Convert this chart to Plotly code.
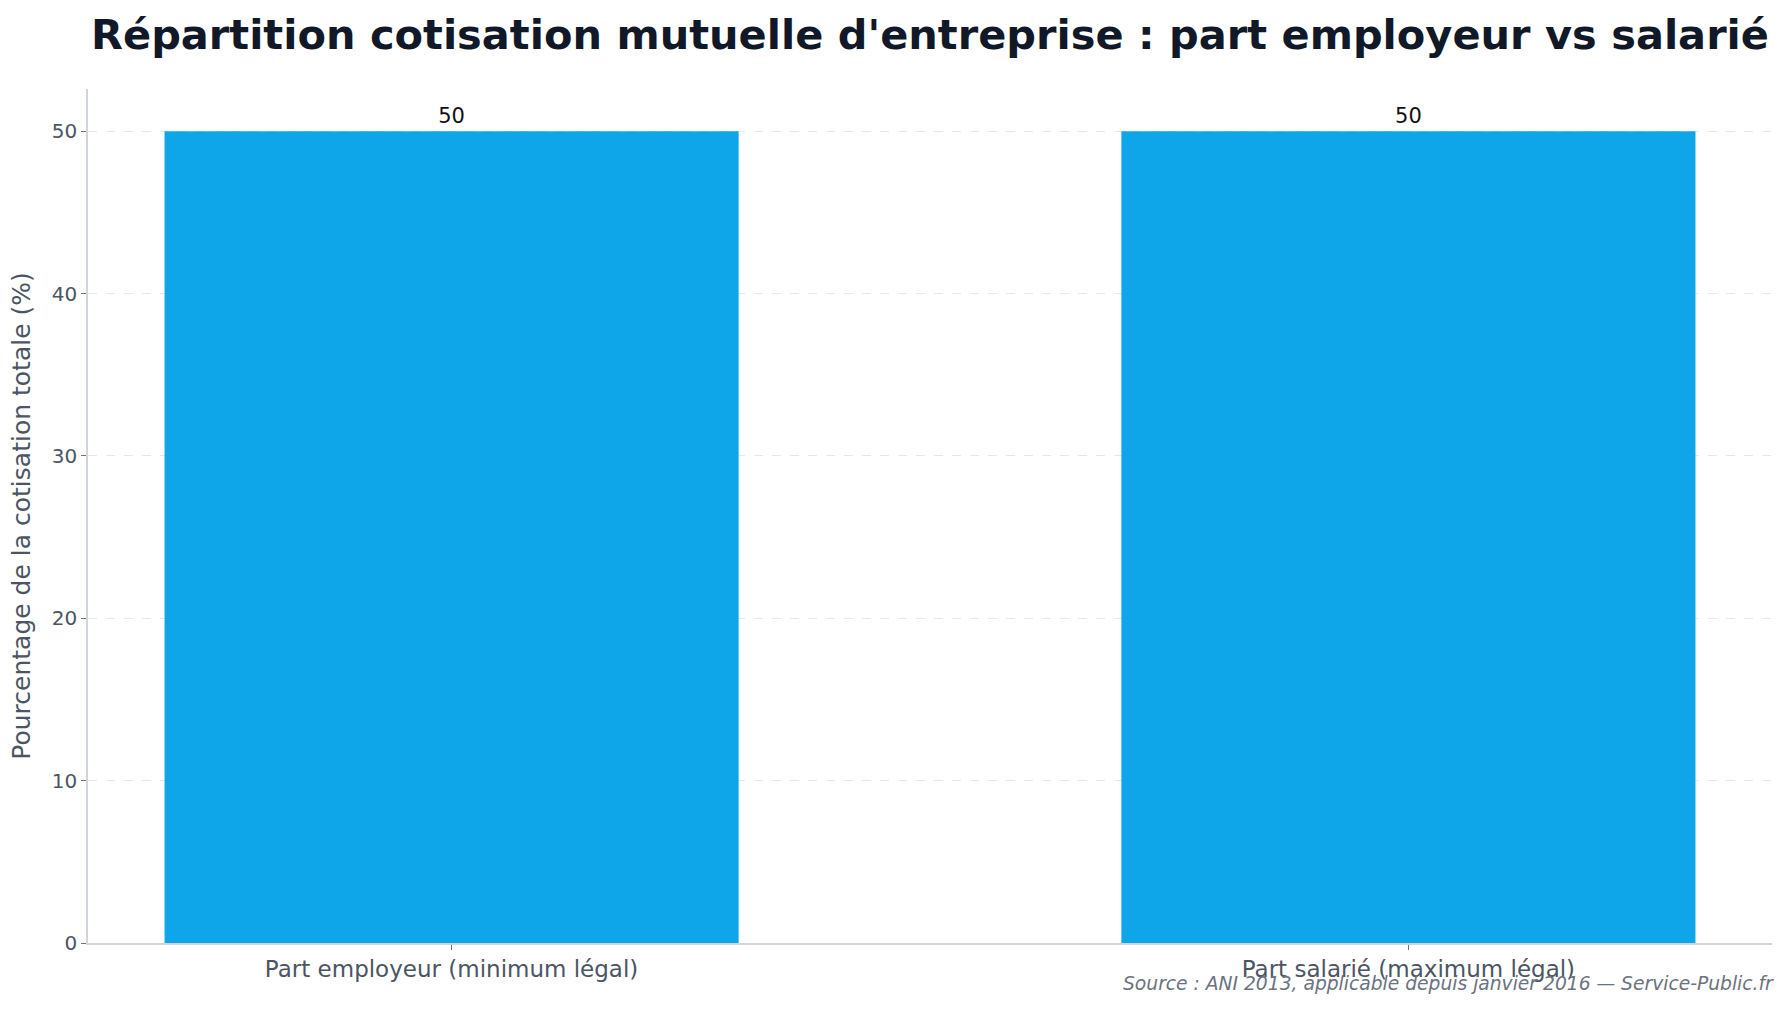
import plotly.graph_objects as go

categories = ["Part employeur (minimum légal)", "Part salarié (maximum légal)"]
values = [50, 50]
y_ticks = [0, 10, 20, 30, 40, 50]

title_text = "Répartition cotisation mutuelle d'entreprise : part employeur vs salarié"
y_title = "Pourcentage de la cotisation totale (%)"
source_text = "Source : ANI 2013, applicable depuis janvier 2016 — Service-Public.fr"

fig = go.Figure(
    go.Bar(
        x=categories,
        y=values,
        width=0.6,
        marker=dict(color="#0EA5E9", line=dict(width=0)),
        text=[str(v) for v in values],
        textposition="outside",
        textfont=dict(family="DejaVu Sans", size=21, color="#111111"),
        cliponaxis=False,
    )
)

fig.update_layout(
    width=1789,
    height=1009,
    paper_bgcolor="white",
    plot_bgcolor="white",
    margin=dict(l=88, r=17, t=89, b=66),
    font=dict(family="DejaVu Sans", color="#4B5563"),
    title=dict(
        text=f"<b>{title_text}</b>",
        x=0.5,
        xref="paper",
        xanchor="center",
        y=1 - 34 / 1009,
        yref="container",
        yanchor="middle",
        font=dict(family="DejaVu Sans", size=41.5, color="#111827"),
    ),
    showlegend=False,
)

fig.update_xaxes(
    type="category",
    range=[-0.38, 1.38],
    showline=True,
    linecolor="#D1D5DB",
    linewidth=1.5,
    ticks="outside",
    ticklen=5,
    tickcolor="#6B7280",
    tickfont=dict(size=23, color="#4B5563"),
    showgrid=False,
)

fig.update_yaxes(
    range=[0, 52.6],
    tickvals=y_ticks,
    showline=True,
    linecolor="#D1D5DB",
    linewidth=1.5,
    ticks="outside",
    ticklen=5,
    tickcolor="#6B7280",
    tickfont=dict(size=20, color="#4B5563"),
    showgrid=True,
    gridcolor="#E5E7EB",
    griddash="dash",
    gridwidth=1,
    zeroline=False,
    title=dict(text=y_title, font=dict(size=25, color="#4B5563"), standoff=14),
)

fig.add_annotation(
    text=f"<i>{source_text}</i>",
    xref="paper",
    yref="paper",
    x=1.0,
    y=-(983 - 943) / (943 - 89),
    xanchor="right",
    yanchor="middle",
    xshift=4,
    showarrow=False,
    font=dict(family="DejaVu Sans", size=18.7, color="#6B7280"),
)

fig.write_html("out.html")
